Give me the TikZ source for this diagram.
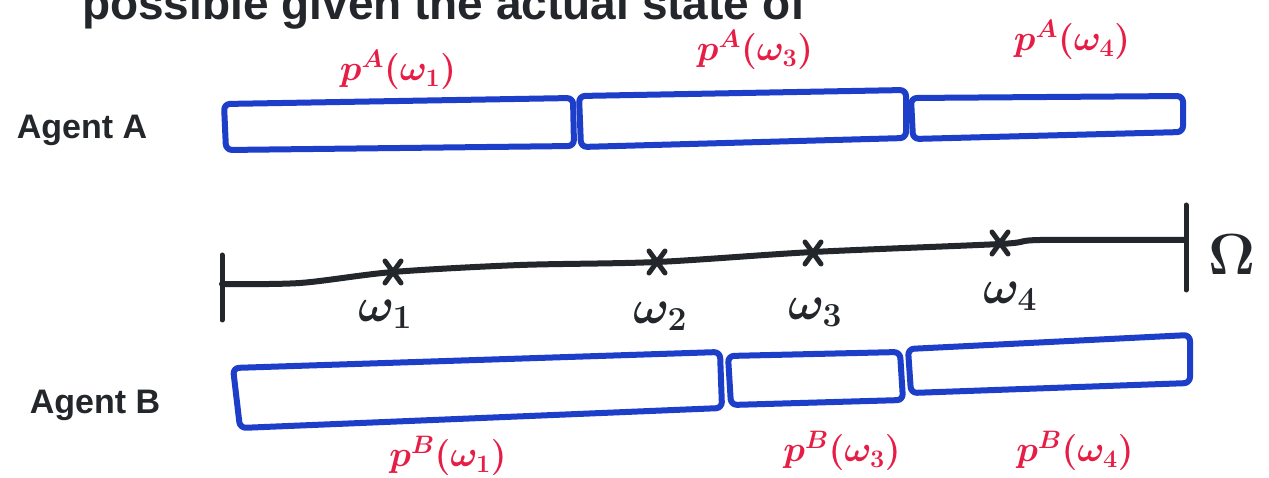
\RequirePackage{fix-cm}
\documentclass[tikz,border=0pt]{standalone}
\usepackage{amsmath}
\usepackage{bm}
\usepackage{fontspec}
\setmainfont{Liberation Sans}
\definecolor{penblue}{RGB}{28,62,200}
\definecolor{penred}{RGB}{230,30,70}
\definecolor{penblack}{RGB}{35,38,42}
\begin{document}
\begin{tikzpicture}[x=1pt,y=-1pt,
  cell/.style={draw=penblue,line width=6pt,rounded corners=6pt,line join=round},
  plab/.style={text=penred,font=\fontsize{36}{38}\selectfont},
  wlab/.style={text=penblack,font=\fontsize{48}{50}\selectfont\bfseries},
  agent/.style={text=penblack,font=\fontsize{34}{36}\selectfont\bfseries},
  xmark/.style={draw=penblack,line width=5pt,line cap=round}]
\useasboundingbox (0,0) rectangle (1269,478);
\clip (0,0) rectangle (1269,478);
\fill[white] (0,0) rectangle (1269,478);
% cut-off heading
\node[anchor=base west,text=penblack,font=\fontsize{46}{48}\selectfont\bfseries,inner sep=0] (head) at (82,20) {possible given the actual state of};
% agent labels
\node[agent] (ag A) at (82,130) {Agent A};
\node[agent] (ag B) at (95,405) {Agent B};
% Agent A cells
\draw[cell] (224,104) -- (573,98) -- (574,146) -- (226,150) -- cycle;
\draw[cell] (579,96) -- (906,90) -- (906,138) -- (581,147) -- cycle;
\draw[cell] (911,98) -- (1183,96) -- (1183,132) -- (913,139) -- cycle;
\node[plab] (pa1) at (398,70) {$\bm{p^{A}(\omega_1)}$};
\node[plab] (pa3) at (755,50) {$\bm{p^{A}(\omega_3)}$};
\node[plab] (pa4) at (1072,40) {$\bm{p^{A}(\omega_4)}$};
% Omega line
\draw[penblack,line width=6pt,line cap=round] plot[smooth,tension=0.5] coordinates {(222,284) (300,283) (393,272) (520,265) (657,262) (813,252) (1000,244) (1040,240) (1185,240)};
\draw[penblack,line width=5pt,line cap=round] (222,255) -- (222,320);
\draw[penblack,line width=5pt,line cap=round] (1186,205) -- (1186,290);
\node[text=penblack,font=\fontsize{58}{60}\selectfont\bfseries] (Om) at (1232,255) {$\bm{\Omega}$};
\foreach \n/\x/\y in {1/393/272,2/657/262,3/813/253,4/1000/243}{
  \coordinate (w\n) at (\x,\y);
  \draw[xmark] (\x-8,\y-11) -- (\x+8,\y+11) (\x+8,\y-11) -- (\x-8,\y+11);
}
\node[wlab] (lw1) at (385,314) {$\bm{\omega_1}$};
\node[wlab] (lw2) at (660,316) {$\bm{\omega_2}$};
\node[wlab] (lw3) at (815,312) {$\bm{\omega_3}$};
\node[wlab] (lw4) at (1010,296) {$\bm{\omega_4}$};
% Agent B cells
\draw[cell] (233,368) -- (720,352) -- (722,408) -- (240,428) -- cycle;
\draw[cell] (728,356) -- (900,352) -- (903,400) -- (731,405) -- cycle;
\draw[cell] (908,349) -- (1190,335) -- (1190,383) -- (911,393) -- cycle;
\node[plab] (pb1) at (448,456) {$\bm{p^{B}(\omega_1)}$};
\node[plab] (pb3) at (842,451) {$\bm{p^{B}(\omega_3)}$};
\node[plab] (pb4) at (1075,451) {$\bm{p^{B}(\omega_4)}$};
\end{tikzpicture}
\end{document}
